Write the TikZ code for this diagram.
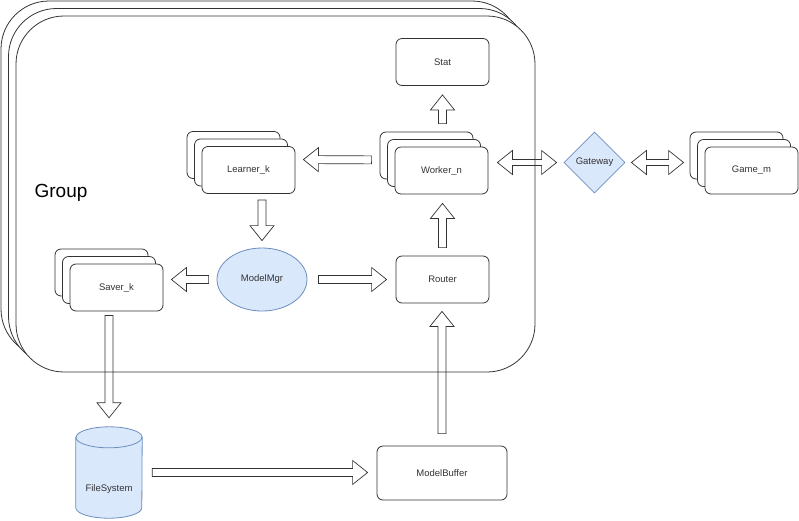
\documentclass[tikz,border=0pt]{standalone}
\usepackage{fontspec}
\setmainfont{Liberation Sans}
\usetikzlibrary{shapes.geometric,shadows,calc}
\definecolor{lblue}{HTML}{DAE8FC}
\definecolor{bblue}{HTML}{6C8EBF}
\definecolor{ink}{HTML}{333333}
\tikzset{
	txt/.style={font=\fontsize{9.5}{11}\selectfont, text=ink},
	comp/.style={txt, draw=ink, line width=0.8pt, rounded corners=6pt, fill=white, minimum width=93pt, minimum height=47pt, inner sep=0pt},
	stack/.style={comp,
		copy shadow={shadow xshift=-15pt, shadow yshift=15pt, draw=ink, fill=white},
		copy shadow={shadow xshift=-7.5pt, shadow yshift=7.5pt, draw=ink, fill=white}},
	bluish/.style={txt, draw=bblue, fill=lblue, line width=0.8pt, inner sep=0pt},
	frame/.style={draw=ink, line width=0.8pt, rounded corners=48pt, fill=white, minimum width=519pt, minimum height=356pt,
		copy shadow={shadow xshift=-15pt, shadow yshift=15pt, draw=ink, fill=white},
		copy shadow={shadow xshift=-7.5pt, shadow yshift=7.5pt, draw=ink, fill=white}},
	blk/.style 2 args={draw=ink, line width=0.7pt, to path={
		let \p1=(\tikztostart), \p2=(\tikztotarget), \n1={atan2(\y2-\y1,\x2-\x1)}, \n2={veclen(\x2-\x1,\y2-\y1)-#2}
		in {[shift={(\p1)}, rotate=\n1]
			(#1,-4pt) -- (\n2-15pt,-4pt) -- (\n2-15pt,-12pt) -- (\n2,0pt) -- (\n2-15pt,12pt) -- (\n2-15pt,4pt) -- (#1,4pt) -- cycle}}},
	dbl/.style 2 args={draw=ink, line width=0.7pt, to path={
		let \p1=(\tikztostart), \p2=(\tikztotarget), \n1={atan2(\y2-\y1,\x2-\x1)}, \n2={veclen(\x2-\x1,\y2-\y1)-#2}
		in {[shift={(\p1)}, rotate=\n1]
			(#1,0pt) -- (#1+15pt,-12pt) -- (#1+15pt,-3pt) -- (\n2-15pt,-3pt) -- (\n2-15pt,-12pt) -- (\n2,0pt)
			-- (\n2-15pt,12pt) -- (\n2-15pt,3pt) -- (#1+15pt,3pt) -- (#1+15pt,12pt) -- cycle}}}
}
\begin{document}
\begin{tikzpicture}[x=1pt,y=-1pt]
	\useasboundingbox (0,0) rectangle (799,520);
	\node[frame] (grp) at (275.5,194) {};
	\node[font=\fontsize{19}{22}\selectfont] (grplbl) at (61,193) {Group};
	\node[comp] (stat) at (442.5,62) {Stat};
	\node[stack] (worker) at (441.5,170.5) {Worker\_n};
	\node[stack] (learner) at (248.5,170) {Learner\_k};
	\node[stack] (saver) at (116.5,287.5) {Saver\_k};
	\node[bluish, ellipse, minimum width=90pt, minimum height=63pt] (mmgr) at (262,279.5) {ModelMgr};
	\node[comp] (router) at (442.5,279.5) {Router};
	\node[comp, minimum width=130pt, minimum height=54pt] (mbuf) at (442,473) {ModelBuffer};
	\node[minimum width=66pt, minimum height=91pt, inner sep=0pt] (fs) at (109,472.5) {};
	\filldraw[draw=bblue, fill=lblue, line width=0.8pt] ($(fs.north west)+(0,10.5)$) -- ($(fs.south west)+(0,-10.5)$)
		arc[start angle=180, end angle=360, x radius=33pt, y radius=10.5pt] -- ($(fs.north east)+(0,10.5)$)
		arc[start angle=0, end angle=180, x radius=33pt, y radius=10.5pt] -- cycle;
	\draw[draw=bblue, line width=0.8pt] ($(fs.north west)+(0,10.5)$) arc[start angle=180, end angle=360, x radius=33pt, y radius=10.5pt];
	\node[txt] (fslbl) at (109,489) {FileSystem};
	\node[bluish, diamond, minimum width=61pt, minimum height=61pt] (gw) at (594.5,162.5) {Gateway};
	\node[stack] (game) at (751.5,170.5) {Game\_m};
	\draw[blk={23pt}{8pt}] ($(worker.west)+(0,-10.5)$) to ($(learner.east)+(0,-10.5)$);
	\draw[blk={6pt}{7pt}] (learner.south -| mmgr.north) to (mmgr.north);
	\draw[blk={8pt}{8pt}] (mmgr.west) to (saver.east |- mmgr.west);
	\draw[blk={11pt}{9pt}] (mmgr.east) to (router.west);
	\draw[blk={8pt}{9pt}] (router.north) to (worker.south -| router.north);
	\draw[blk={23pt}{9pt}] (worker.north -| stat.south) to (stat.south);
	\draw[blk={12pt}{8pt}] (mbuf.north) to (router.south -| mbuf.north);
	\draw[blk={4pt}{9pt}] (saver.south -| fs.north) to (fs.north);
	\draw[blk={10pt}{9pt}] (fs.east) to (mbuf.west |- fs.east);
	\draw[dbl={9pt}{7pt}] (worker.east |- gw.west) to (gw.west);
	\draw[dbl={6pt}{21pt}] (gw.east) to (game.west |- gw.east);
\end{tikzpicture}
\end{document}
